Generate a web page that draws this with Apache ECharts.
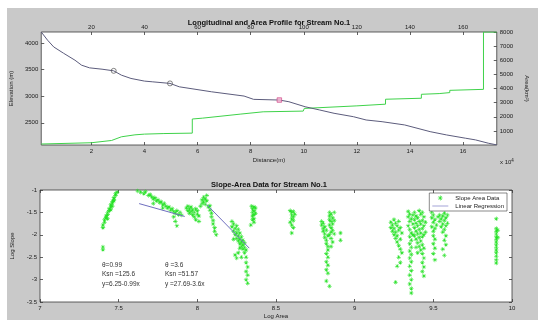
<!DOCTYPE html>
<html>
<head>
<meta charset="utf-8">
<script src="https://cdn.jsdelivr.net/npm/echarts@6/dist/echarts.min.js"></script>
<style>
  html, body { margin: 0; padding: 0; background: #fff; }
  #chart {
    width: 538px; height: 320px;
    background: linear-gradient(#c9c9c9, #c9c9c9) 7px 8px / 531px 312px no-repeat, #fff;
  }
</style>
</head>
<body>
<div id="chart"></div>
<script>
// ---- Longitudinal profile (distance in m, elevation in m) ----
const profileDistance = [1100, 3500, 5800, 9500, 13800, 16300, 19300, 24000, 28400, 31300, 34900, 40000, 42900, 49600, 53100, 65300, 77500, 81100, 90800, 94400, 100500, 106000, 111400, 118700, 123500, 129500, 138000, 147600, 153800, 161000, 164700, 169500, 172700];
const profileElevation = [4206, 4051, 3925, 3807, 3676, 3582, 3532, 3507, 3476, 3395, 3333, 3283, 3270, 3240, 3176, 3082, 3002, 2940, 2927, 2895, 2801, 2740, 2678, 2614, 2552, 2520, 2459, 2333, 2271, 2209, 2178, 2116, 2084];

// knickpoints along the profile
const knickDistance = [28400, 49600];
const knickElevation = [3476, 3240];
const majorKnickDistance = [90800];
const majorKnickElevation = [2927];

// ---- Drainage area along the stream (km^2), stepped at tributary junctions ----
const areaDistance = [1100, 20000, 27600, 31300, 36400, 40000, 47300, 58000, 58000, 61800, 76300, 76300, 84700, 99800, 100200, 120000, 130800, 130800, 144300, 144300, 151000, 155000, 155000, 167700, 167700, 172700];
const drainageArea = [70, 160, 320, 580, 720, 770, 810, 840, 1840, 1900, 2190, 2310, 2350, 2400, 2590, 2770, 2890, 3240, 3310, 3590, 3640, 3710, 3870, 3940, 8000, 8000];

// ---- Tick labels ----
const distanceTicks = [20000, 40000, 60000, 80000, 100000, 120000, 140000, 160000];
const elevationTicks = [2500, 3000, 3500, 4000];

// ---- Slope-area data: [log area, log slope] ----
const slopeAreaPoints = [
  // reach 1
  [7.40,-1.84],[7.40,-1.78],[7.41,-1.72],[7.41,-1.66],[7.42,-1.62],[7.42,-1.58],[7.43,-1.55],[7.43,-1.50],[7.44,-1.46],[7.44,-1.42],
  [7.45,-1.38],[7.45,-1.33],[7.46,-1.29],[7.46,-1.25],[7.47,-1.21],[7.47,-1.17],[7.48,-1.12],[7.48,-1.08],[7.49,-1.05],[7.45,-1.44],
  [7.46,-1.36],[7.43,-1.64],[7.47,-1.24],[7.40,-2.27],[7.40,-2.33],
  [7.62,-1.02],[7.64,-1.05],[7.66,-1.08],[7.67,-1.04],[7.69,-1.12],[7.70,-1.10],[7.71,-1.15],[7.72,-1.20],[7.73,-1.17],[7.74,-1.24],
  [7.75,-1.22],[7.76,-1.28],[7.77,-1.26],[7.78,-1.33],[7.79,-1.30],[7.80,-1.36],[7.81,-1.40],[7.82,-1.38],[7.83,-1.45],[7.84,-1.42],
  [7.85,-1.48],[7.86,-1.52],[7.87,-1.46],[7.88,-1.55],[7.85,-1.60],[7.86,-1.70],[7.87,-1.80],[7.89,-1.50],[7.90,-1.56],[7.72,-1.30],[7.78,-1.40],
  [7.93,-1.40],[7.94,-1.36],[7.94,-1.46],[7.95,-1.42],[7.95,-1.52],[7.96,-1.38],[7.96,-1.48],[7.97,-1.55],[7.97,-1.44],[7.98,-1.60],
  [7.98,-1.50],[7.99,-1.42],[7.99,-1.66],[8.00,-1.54],[8.00,-1.46],[8.01,-1.58],[8.01,-1.70],[8.02,-1.36],[8.03,-1.30],[8.03,-1.22],
  [8.04,-1.26],[8.04,-1.16],[8.05,-1.20],[8.05,-1.32],[8.06,-1.24],[8.06,-1.12],[8.07,-1.38],[8.08,-1.45],[8.09,-1.52],[8.09,-1.60],
  [8.10,-1.68],[8.10,-1.76],[8.11,-1.84],[8.11,-1.92],[8.12,-2.00],[8.08,-1.35],
  // reach 2
  [8.22,-1.70],[8.22,-1.82],[8.23,-1.76],[8.23,-1.92],[8.24,-1.86],[8.24,-2.00],[8.25,-1.95],[8.25,-2.08],[8.25,-1.80],[8.26,-2.02],
  [8.26,-2.14],[8.26,-1.88],[8.27,-2.10],[8.27,-2.20],[8.27,-1.96],[8.28,-2.16],[8.28,-2.26],[8.28,-2.04],[8.29,-2.22],[8.29,-2.32],
  [8.29,-2.12],[8.30,-2.28],[8.30,-2.18],[8.30,-2.40],[8.31,-2.34],[8.31,-2.50],[8.31,-2.62],[8.32,-2.72],[8.31,-2.82],[8.32,-2.90],
  [8.31,-3.00],[8.32,-3.08],[8.24,-2.45],[8.25,-2.52],[8.26,-2.40],[8.28,-2.50],[8.23,-2.10],[8.27,-2.30],
  [8.345,-1.36],[8.35,-1.42],[8.36,-1.38],[8.35,-1.50],[8.36,-1.46],[8.37,-1.40],[8.35,-1.58],[8.36,-1.55],[8.37,-1.52],[8.35,-1.66],
  [8.36,-1.72],[8.34,-1.78],[8.36,-1.64],
  [8.59,-1.46],[8.60,-1.50],[8.61,-1.48],[8.60,-1.56],[8.61,-1.60],[8.62,-1.54],[8.60,-1.64],[8.61,-1.68],[8.59,-1.72],[8.60,-1.78],
  [8.61,-1.84],[8.60,-1.96],
  [8.79,-1.70],[8.79,-1.78],[8.80,-1.74],[8.80,-1.86],[8.80,-1.92],[8.81,-1.82],[8.81,-1.98],[8.81,-2.06],[8.82,-1.90],[8.82,-2.12],
  [8.82,-2.20],[8.83,-2.02],[8.83,-2.26],[8.83,-2.34],[8.82,-2.42],[8.83,-2.50],[8.82,-2.60],[8.83,-2.68],[8.82,-2.78],[8.83,-2.86],
  [8.84,-1.50],[8.84,-1.58],[8.85,-1.54],[8.84,-1.66],[8.85,-1.70],[8.86,-1.62],[8.84,-1.78],[8.85,-1.84],[8.86,-1.76],[8.85,-1.94],
  [8.86,-1.90],[8.84,-2.00],[8.85,-2.08],[8.86,-2.16],[8.85,-2.26],[8.87,-1.50],[8.87,-1.68],[8.87,-1.98],[8.82,-3.03],[8.84,-3.15],
  [8.91,-1.96],[8.91,-2.12],
  [9.23,-1.72],[9.23,-1.84],[9.24,-1.78],[9.24,-1.92],[9.25,-1.66],[9.25,-1.86],[9.25,-2.00],[9.26,-1.74],[9.26,-1.94],[9.26,-2.08],
  [9.27,-1.80],[9.27,-2.02],[9.27,-2.16],[9.28,-1.70],[9.28,-1.90],[9.28,-2.24],[9.29,-1.84],[9.29,-2.10],[9.29,-2.32],[9.30,-1.96],
  [9.30,-2.40],[9.28,-2.50],[9.29,-2.62],[9.27,-2.70],[9.26,-3.06],
  [9.34,-1.48],[9.34,-1.60],[9.35,-1.54],[9.35,-1.70],[9.34,-1.80],[9.35,-1.88],[9.36,-1.64],[9.36,-1.96],[9.35,-2.04],[9.36,-2.12],
  [9.35,-2.20],[9.36,-2.28],[9.35,-2.36],[9.36,-2.44],[9.35,-2.52],[9.36,-2.60],[9.35,-2.70],[9.36,-2.80],[9.35,-2.90],[9.36,-3.00],
  [9.35,-3.10],[9.36,-3.20],[9.36,-3.30],[9.37,-1.76],[9.37,-2.00],[9.37,-1.56],
  [9.38,-1.50],[9.38,-1.66],[9.38,-1.84],[9.38,-2.02],[9.39,-1.58],[9.39,-1.74],[9.39,-1.92],[9.39,-2.10],[9.40,-1.62],[9.40,-1.80],
  [9.40,-1.98],[9.40,-2.18],[9.41,-1.46],[9.41,-1.70],[9.41,-1.88],[9.41,-2.06],[9.41,-2.26],[9.42,-1.54],[9.42,-1.76],[9.42,-1.96],
  [9.42,-2.14],[9.42,-2.34],[9.43,-1.50],[9.43,-1.68],[9.43,-1.86],[9.43,-2.04],[9.43,-2.22],[9.43,-2.42],[9.44,-1.60],[9.44,-1.80],
  [9.44,-2.00],[9.44,-2.30],[9.44,-2.52],[9.43,-2.62],[9.44,-2.72],[9.43,-2.82],[9.44,-2.92],[9.45,-1.72],[9.45,-1.94],[9.39,-2.28],[9.40,-2.40],
  [9.49,-1.50],[9.49,-1.62],[9.50,-1.56],[9.50,-1.72],[9.49,-1.82],[9.50,-1.92],[9.51,-1.66],[9.51,-1.86],[9.50,-2.02],[9.51,-2.10],
  [9.50,-2.20],[9.51,-2.30],[9.50,-2.42],[9.51,-2.56],[9.52,-1.78],[9.53,-1.60],[9.54,-1.56],[9.54,-1.70],[9.55,-1.64],[9.55,-1.82],
  [9.56,-1.58],[9.56,-1.76],[9.56,-1.94],[9.57,-1.52],[9.57,-1.68],[9.57,-1.88],[9.58,-1.62],[9.58,-1.80],[9.58,-2.02],[9.57,-2.12],
  [9.58,-2.22],[9.56,-2.32],[9.57,-2.46],[9.59,-1.74],[9.59,-1.56],
  [9.90,-1.64],[9.90,-1.86],[9.90,-1.92],[9.90,-1.98],[9.90,-2.04],[9.90,-2.10],[9.90,-2.16],[9.90,-2.22],[9.90,-2.28],[9.90,-2.34],
  [9.90,-2.40],[9.90,-2.48],[9.90,-2.56],[9.90,-2.63],[9.91,-1.90],[9.91,-2.06]
];

// ---- Regression fits: y = intercept - slope * x over the fitted log-area range ----
const fitIntercept = [6.25, 27.69];
const fitSlope = [0.99, 3.6];
const fitFrom = [7.63, 8.06];
const fitTo = [7.92, 8.33];

const FONT = 'Liberation Sans, Arial, Helvetica, sans-serif';
const TXT = '#1a1a1a';
const AX = '#3a3a3a';
const FIT_COLOR = '#6f6fbf';

function fitLine(i) {
  return [fitFrom[i], fitTo[i]].map(x => [x, fitIntercept[i] - fitSlope[i] * x]);
}

const asterisk = 'path://M4.4 0h1.2v10H4.4z M0 4.4h10v1.2H0z M1.2 2.05l0.85-0.85 6.75 6.75-0.85 0.85z M7.95 1.2l0.85 0.85-6.75 6.75-0.85-0.85z';
const lineIcon = 'path://M0 4.6h20v0.8H0z';

const tickStyle = { inside: true, length: 3, lineStyle: { color: AX, width: 0.8 } };
const labelStyle = { color: TXT, fontSize: 6, fontFamily: FONT };
const nameStyle = { color: TXT, fontSize: 6, fontFamily: FONT };
const plain = v => String(v);

const chart = echarts.init(document.getElementById('chart'), null, { renderer: 'canvas' });

chart.setOption({
  animation: false,
  backgroundColor: 'transparent',
  textStyle: { fontFamily: FONT },
  title: [
    { text: 'Longitudinal and Area Profile for Stream No.1', left: 'center', top: 14,
      textStyle: { fontSize: 7.5, fontWeight: 'bold', color: '#111', fontFamily: FONT } },
    { text: 'Slope-Area Data for Stream No.1', left: 'center', top: 176,
      textStyle: { fontSize: 7.5, fontWeight: 'bold', color: '#111', fontFamily: FONT } }
  ],
  grid: [
    { left: 40, top: 32, width: 472, height: 113, show: true, backgroundColor: '#fff', borderColor: AX, borderWidth: 0.8 },
    { left: 40, top: 190, width: 472, height: 112, show: true, backgroundColor: '#fff', borderColor: AX, borderWidth: 0.8 }
  ],
  legend: {
    right: 31, top: 193, orient: 'vertical', itemWidth: 16, itemHeight: 5, itemGap: 2,
    padding: [2, 3, 2, 3], backgroundColor: '#fff', borderColor: AX, borderWidth: 0.6,
    textStyle: { fontSize: 6, color: TXT, fontFamily: FONT, padding: [0, 0, 0, 2] },
    data: [
      { name: 'Slope Area Data', icon: asterisk },
      { name: 'Linear Regression', icon: lineIcon }
    ]
  },
  xAxis: [
    { type: 'value', gridIndex: 0, position: 'bottom', min: 1100, max: 172700,
      axisLine: { show: false }, splitLine: { show: false },
      axisTick: Object.assign({ customValues: distanceTicks }, tickStyle),
      axisLabel: Object.assign({ customValues: distanceTicks, margin: 3, formatter: v => String(v / 10000) }, labelStyle),
      name: 'Distance(m)', nameLocation: 'middle', nameGap: 12, nameTextStyle: nameStyle },
    { type: 'value', gridIndex: 0, position: 'top', min: 1100, max: 172700,
      axisLine: { show: false }, splitLine: { show: false },
      axisTick: Object.assign({ customValues: distanceTicks }, tickStyle),
      axisLabel: Object.assign({ customValues: distanceTicks, margin: 2, formatter: v => String(v / 1000) }, labelStyle) },
    { type: 'value', gridIndex: 1, position: 'bottom', min: 7, max: 10, interval: 0.5,
      axisLine: { show: false }, splitLine: { show: false },
      axisTick: tickStyle,
      axisLabel: Object.assign({ margin: 3, formatter: plain }, labelStyle),
      name: 'Log Area', nameLocation: 'middle', nameGap: 11, nameTextStyle: nameStyle },
    { type: 'value', gridIndex: 1, position: 'top', min: 7, max: 10, interval: 0.5,
      axisLine: { show: false }, splitLine: { show: false },
      axisTick: tickStyle, axisLabel: { show: false } }
  ],
  yAxis: [
    { type: 'value', gridIndex: 0, position: 'left', min: 2082, max: 4206,
      axisLine: { show: false }, splitLine: { show: false },
      axisTick: Object.assign({ customValues: elevationTicks }, tickStyle),
      axisLabel: Object.assign({ customValues: elevationTicks, margin: 3, formatter: plain }, labelStyle),
      name: 'Elevation (m)', nameLocation: 'middle', nameGap: 22, nameRotate: 90, nameTextStyle: nameStyle },
    { type: 'value', gridIndex: 0, position: 'right', min: 0, max: 8000, interval: 1000,
      axisLine: { show: false }, splitLine: { show: false },
      axisTick: tickStyle,
      axisLabel: Object.assign({ margin: 3, showMinLabel: false, formatter: plain }, labelStyle),
      name: 'Area(km²)', nameLocation: 'middle', nameGap: 19, nameRotate: -90, nameTextStyle: nameStyle },
    { type: 'value', gridIndex: 1, position: 'left', min: -3.5, max: -1, interval: 0.5,
      axisLine: { show: false }, splitLine: { show: false },
      axisTick: tickStyle,
      axisLabel: Object.assign({ margin: 3, formatter: plain }, labelStyle),
      name: 'Log Slope', nameLocation: 'middle', nameGap: 17, nameRotate: 90, nameTextStyle: nameStyle },
    { type: 'value', gridIndex: 1, position: 'right', min: -3.5, max: -1, interval: 0.5,
      axisLine: { show: false }, splitLine: { show: false },
      axisTick: tickStyle, axisLabel: { show: false } }
  ],
  graphic: [
    { type: 'text', left: 500, top: 158,
      style: { text: '{a|x 10}{s|4}', rich: { a: { fontSize: 6, fill: TXT, fontFamily: FONT }, s: { fontSize: 4.5, fill: TXT, fontFamily: FONT, verticalAlign: 'top', padding: [0, 0, 4, 0] } } } },
    { type: 'text', left: 102, top: 260, style: { text: 'θ=0.99\nKsn =125.6\ny=6.25-0.99x', fontSize: 6.5, lineHeight: 9.5, fill: '#333', fontFamily: FONT } },
    { type: 'text', left: 165, top: 260, style: { text: 'θ =3.6\nKsn =51.57\ny =27.69-3.6x', fontSize: 6.5, lineHeight: 9.5, fill: '#333', fontFamily: FONT } }
  ],
  series: [
    { name: 'Drainage Area', type: 'line', xAxisIndex: 0, yAxisIndex: 1,
      data: areaDistance.map((d, i) => [d, drainageArea[i]]),
      showSymbol: false, lineStyle: { color: '#3fd24a', width: 1 }, z: 2 },
    { name: 'Elevation', type: 'line', xAxisIndex: 0, yAxisIndex: 0,
      data: profileDistance.map((d, i) => [d, profileElevation[i]]),
      showSymbol: false, lineStyle: { color: '#5c5c7c', width: 1 }, z: 3 },
    { name: 'Knickpoints', type: 'scatter', xAxisIndex: 0, yAxisIndex: 0,
      data: knickDistance.map((d, i) => [d, knickElevation[i]]),
      symbol: 'circle', symbolSize: 5,
      itemStyle: { color: 'rgba(0,0,0,0)', borderColor: '#555', borderWidth: 0.9 }, z: 4 },
    { name: 'Major Knickpoint', type: 'scatter', xAxisIndex: 0, yAxisIndex: 0,
      data: majorKnickDistance.map((d, i) => [d, majorKnickElevation[i]]),
      symbol: 'rect', symbolSize: 4.5,
      itemStyle: { color: '#f3b0d0', borderColor: '#d04d8c', borderWidth: 0.9 }, z: 4 },
    { name: 'Slope Area Data', type: 'scatter', xAxisIndex: 2, yAxisIndex: 2,
      data: slopeAreaPoints, symbol: asterisk, symbolSize: 4.5,
      itemStyle: { color: '#1ee01e', opacity: 0.9 }, z: 2 },
    { name: 'Linear Regression', type: 'line', xAxisIndex: 2, yAxisIndex: 2,
      data: fitLine(0), showSymbol: false, lineStyle: { color: FIT_COLOR, width: 1 }, itemStyle: { color: FIT_COLOR }, z: 3 },
    { name: 'Linear Regression', type: 'line', xAxisIndex: 2, yAxisIndex: 2,
      data: fitLine(1), showSymbol: false, lineStyle: { color: FIT_COLOR, width: 1 }, itemStyle: { color: FIT_COLOR }, z: 3 }
  ]
});
</script>
</body>
</html>
